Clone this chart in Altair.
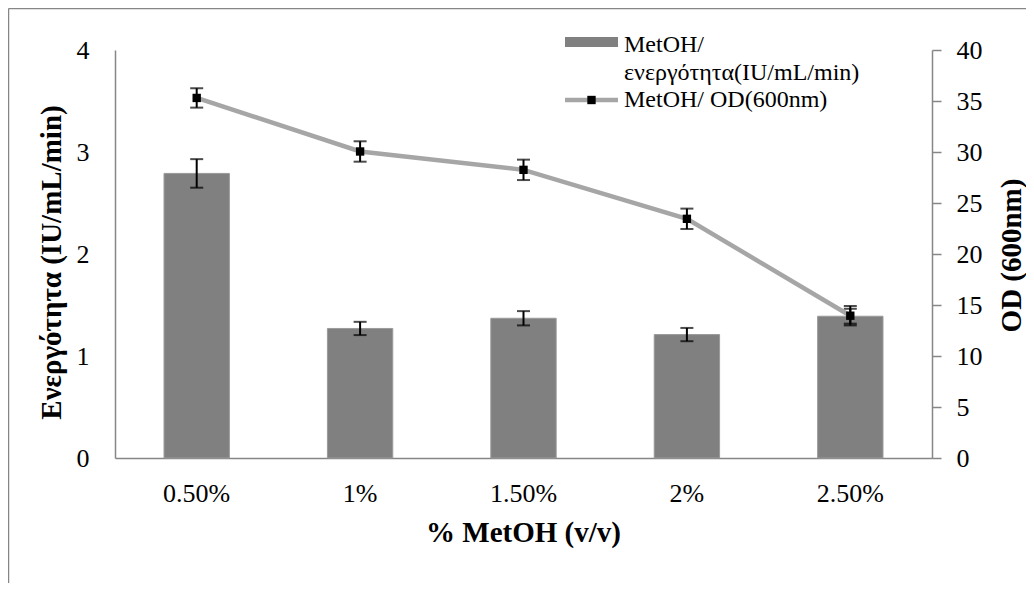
import altair as alt
import pandas as pd

cats = ["0.50%", "1%", "1.50%", "2%", "2.50%"]
activity = [2.79, 1.27, 1.37, 1.21, 1.39]
activity_err = [0.14, 0.065, 0.07, 0.065, 0.073]
od = [35.3, 30.05, 28.25, 23.45, 13.95]
od_err = [0.95, 1.0, 1.0, 1.0, 0.95]

legend_bar = ["MetOH/", "ενεργότητα(IU/mL/min)"]
legend_line = "MetOH/ OD(600nm)"

FONT = "Liberation Serif"
GRAY = "#868686"

df = pd.DataFrame({
    "cat": cats,
    "act": activity,
    "act_lo": [v - e for v, e in zip(activity, activity_err)],
    "act_hi": [v + e for v, e in zip(activity, activity_err)],
    "od": od,
    "od_lo": [v - e for v, e in zip(od, od_err)],
    "od_hi": [v + e for v, e in zip(od, od_err)],
})

X = alt.X("cat:N", sort=cats,
          scale=alt.Scale(paddingInner=0.6, paddingOuter=0.3),
          axis=alt.Axis(title="% MetOH (v/v)", labelAngle=0, ticks=False, tickSize=0,
                        labelPadding=22, titleX=408, titleY=74,
                        titleBaseline="middle", titleAlign="center"))

AXL = alt.Axis(title="Ενεργότητα (IU/mL/min)", orient="left", values=[0, 1, 2, 3, 4],
               ticks=False, tickSize=0, labelPadding=26, titleAngle=270,
               titleX=-64, titleY=212, titleBaseline="middle", titleAlign="center")
AXR = alt.Axis(title="OD (600nm)", orient="right", values=list(range(0, 41, 5)),
               ticks=True, tickSize=9, tickColor=GRAY, tickWidth=1.5, labelPadding=15,
               titleAngle=270, titleX=79, titleY=205, titleBaseline="middle",
               titleAlign="center")


def yl(f):
    return alt.Y(f, type="quantitative", scale=alt.Scale(domain=[0, 4], nice=False), axis=AXL)


def yr(f):
    return alt.Y(f, type="quantitative", scale=alt.Scale(domain=[0, 40], nice=False), axis=AXR)


base = alt.Chart(df)

bars = base.mark_bar(color="#808080", stroke="#9a9a9a", strokeWidth=1).encode(x=X, y=yl("act"))
bar_err = base.mark_rule(color="black", strokeWidth=2).encode(x=X, y=yl("act_lo"), y2="act_hi")
bar_cap_hi = base.mark_tick(color="black", size=13, thickness=2).encode(x=X, y=yl("act_hi"))
bar_cap_lo = base.mark_tick(color="black", size=13, thickness=2).encode(x=X, y=yl("act_lo"))

left = alt.layer(bars, bar_err, bar_cap_hi, bar_cap_lo)

line = base.mark_line(color="#a6a6a6", strokeWidth=4.5).encode(x=X, y=yr("od"))
od_err_rule = base.mark_rule(color="black", strokeWidth=2).encode(x=X, y=yr("od_lo"), y2="od_hi")
od_cap_hi = base.mark_tick(color="black", size=13, thickness=2).encode(x=X, y=yr("od_hi"))
od_cap_lo = base.mark_tick(color="black", size=13, thickness=2).encode(x=X, y=yr("od_lo"))
pts = base.mark_point(shape="square", filled=True, size=70, color="black", opacity=1).encode(
    x=X, y=yr("od"))

right = alt.layer(line, od_err_rule, od_cap_hi, od_cap_lo, pts)

one = alt.Chart(pd.DataFrame({"k": [0]}))
frame_left = one.mark_rule(color=GRAY, strokeWidth=1.5, clip=False).encode(
    x=alt.value(-106.5), y=alt.value(-41.5), y2=alt.value(700))
frame_top = one.mark_rule(color=GRAY, strokeWidth=1.5, clip=False).encode(
    x=alt.value(-106.5), x2=alt.value(1000), y=alt.value(-41.5))

leg_rect = one.mark_rect(color="#808080").encode(
    x=alt.value(450), x2=alt.value(503), y=alt.value(-13), y2=alt.value(-3))
leg_line = one.mark_rule(color="#a6a6a6", strokeWidth=4.5).encode(
    x=alt.value(450), x2=alt.value(503), y=alt.value(50))
leg_pt = one.mark_point(shape="square", filled=True, size=70, color="black", opacity=1).encode(
    x=alt.value(476.5), y=alt.value(50))
txt = dict(font=FONT, fontSize=24, align="left", baseline="middle", color="black")
leg_t1 = one.mark_text(text=legend_bar[0], **txt).encode(x=alt.value(509), y=alt.value(-5))
leg_t2 = one.mark_text(text=legend_bar[1], **txt).encode(x=alt.value(509), y=alt.value(23))
leg_t3 = one.mark_text(text=legend_line, **txt).encode(x=alt.value(509), y=alt.value(50))

deco = alt.layer(frame_left, frame_top, leg_rect, leg_line, leg_pt, leg_t1, leg_t2, leg_t3)

chart = alt.layer(left, right, deco).resolve_scale(y="independent").properties(
    width=817, height=408,
    autosize=alt.AutoSizeParams(type="none"),
    padding={"left": 107, "top": 42, "right": 94, "bottom": 125},
    background="white",
).configure_view(stroke=None).configure_axis(
    domainColor=GRAY, domainWidth=1.5, grid=False,
    labelFont=FONT, labelFontSize=26, labelColor="black",
    titleFont=FONT, titleFontSize=29, titleFontWeight="bold", titleColor="black",
)

chart.save("out.html", embed_options={"renderer": "svg", "actions": False})
